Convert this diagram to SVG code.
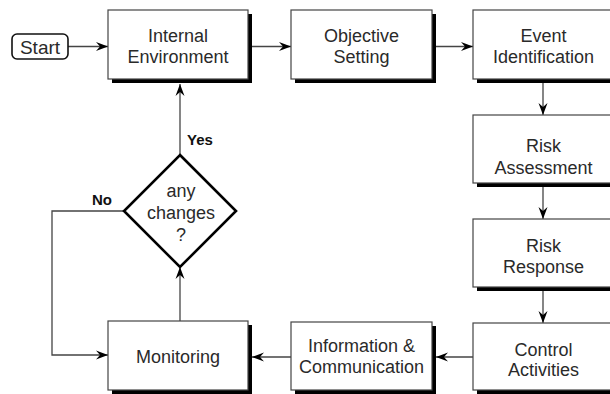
<svg xmlns="http://www.w3.org/2000/svg" width="610" height="394" viewBox="0 0 610 394">
  <style>
    .box { fill: #ffffff; stroke: #444444; stroke-width: 1.2; }
    .shadow { fill: #000000; }
    .label { font-family: "Liberation Sans", Arial, sans-serif; font-size: 18px; fill: #2a2a2a; text-anchor: middle; }
    .tag { font-family: "Liberation Sans", Arial, sans-serif; font-size: 15px; font-weight: bold; fill: #111111; }
    .edge { fill: none; stroke: #444444; stroke-width: 1.3; }
  </style>
  <defs>
    <marker id="arrow" viewBox="-13 -5 14 10" refX="0" refY="0" markerWidth="14" markerHeight="10" markerUnits="userSpaceOnUse" orient="auto">
      <path d="M0,0 L-12,-4.5 L-8,0 L-12,4.5 Z" fill="#000000"/>
    </marker>
  </defs>
  <rect width="610" height="394" fill="#ffffff"/>

  <!-- connectors -->
  <g id="connectors">
    <path class="edge" d="M68,46.5 H108" marker-end="url(#arrow)"/>
    <path class="edge" d="M252,46.5 H291" marker-end="url(#arrow)"/>
    <path class="edge" d="M436,46.5 H473" marker-end="url(#arrow)"/>
    <path class="edge" d="M543,83 V115" marker-end="url(#arrow)"/>
    <path class="edge" d="M543,187 V219" marker-end="url(#arrow)"/>
    <path class="edge" d="M543,291 V323" marker-end="url(#arrow)"/>
    <path class="edge" d="M473,357 H436" marker-end="url(#arrow)"/>
    <path class="edge" d="M291,357 H252" marker-end="url(#arrow)"/>
    <path class="edge" d="M180,321 V267" marker-end="url(#arrow)"/>
    <path class="edge" d="M180,155 V84" marker-end="url(#arrow)"/>
    <path class="edge" d="M124,211 H52 V355 H108" marker-end="url(#arrow)"/>
  </g>

  <!-- start terminal -->
  <g id="start">
    <rect x="12" y="34" width="56" height="25" rx="5" fill="#ffffff" stroke="#111111" stroke-width="1.6"/>
    <text class="label" x="40" y="54" style="font-size:19px">Start</text>
  </g>

  <g id="internal-environment">
    <rect class="shadow" x="112" y="14" width="140" height="69"/>
    <rect class="box" x="108" y="10" width="140" height="69"/>
    <text class="label" x="178" y="42">Internal</text>
    <text class="label" x="178" y="63">Environment</text>
  </g>

  <g id="objective-setting">
    <rect class="shadow" x="295" y="14" width="141" height="69"/>
    <rect class="box" x="291" y="10" width="141" height="69"/>
    <text class="label" x="361.5" y="42">Objective</text>
    <text class="label" x="361.5" y="63">Setting</text>
  </g>

  <g id="event-identification">
    <rect class="shadow" x="477" y="14" width="141" height="69"/>
    <rect class="box" x="473" y="10" width="141" height="69"/>
    <text class="label" x="543.5" y="42">Event</text>
    <text class="label" x="543.5" y="63">Identification</text>
  </g>

  <g id="risk-assessment">
    <rect class="shadow" x="477" y="119" width="141" height="68"/>
    <rect class="box" x="473" y="115" width="141" height="68"/>
    <text class="label" x="543.5" y="152">Risk</text>
    <text class="label" x="543.5" y="174">Assessment</text>
  </g>

  <g id="risk-response">
    <rect class="shadow" x="477" y="223" width="141" height="68"/>
    <rect class="box" x="473" y="219" width="141" height="68"/>
    <text class="label" x="543.5" y="252">Risk</text>
    <text class="label" x="543.5" y="273">Response</text>
  </g>

  <g id="control-activities">
    <rect class="shadow" x="477" y="327" width="141" height="67"/>
    <rect class="box" x="473" y="323" width="141" height="67"/>
    <text class="label" x="543.5" y="356">Control</text>
    <text class="label" x="543.5" y="376">Activities</text>
  </g>

  <g id="information-communication">
    <rect class="shadow" x="295" y="326" width="141" height="68"/>
    <rect class="box" x="291" y="322" width="141" height="68"/>
    <text class="label" x="361.5" y="352">Information &amp;</text>
    <text class="label" x="361.5" y="373">Communication</text>
  </g>

  <g id="monitoring">
    <rect class="shadow" x="112" y="325" width="140" height="69"/>
    <rect class="box" x="108" y="321" width="140" height="69"/>
    <text class="label" x="178" y="363">Monitoring</text>
  </g>

  <g id="any-changes">
    <polygon points="180,155 236,211 180,267 124,211" fill="#ffffff" stroke="#000000" stroke-width="2.6" stroke-linejoin="miter"/>
    <text class="label" x="181" y="197">any</text>
    <text class="label" x="181" y="219">changes</text>
    <text class="label" x="181" y="241">?</text>
  </g>

  <text class="tag" x="187" y="145">Yes</text>
  <text class="tag" x="92" y="205">No</text>
</svg>
